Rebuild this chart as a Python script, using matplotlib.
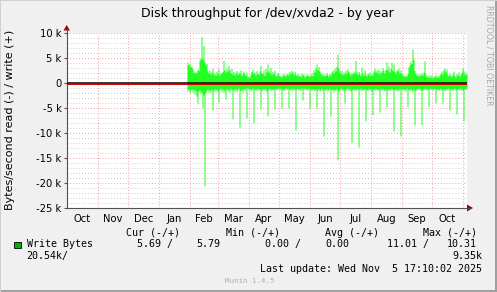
import numpy as np
import matplotlib
matplotlib.use("Agg")
import matplotlib.pyplot as plt
from matplotlib.patches import Rectangle, Polygon

W, H = 497, 292

# time range of the yearly graph
t0 = np.datetime64("2024-10-01")
t_end = np.datetime64("2025-11-05")
data_start = np.datetime64("2025-01-29")

# daily write rate, thousand bytes/s
write_k = [
    4.2, 3.6, 3.9, 3.2, 3.4, 2.9, 2.1, 2.4, 1.9, 2.2,
    2.8, 2.5, 4.6, 5.0, 9.3, 4.8, 7.5, 4.2, 3.6, 3.9,
    2.4, 2.0, 2.6, 1.8, 2.2, 2.9, 1.7, 2.0, 1.5, 2.4,
    1.8, 2.8, 1.6, 2.1, 1.9, 2.3, 4.5, 2.6, 2.2, 3.0,
    2.4, 3.5, 2.7, 2.0, 2.9, 1.8, 2.3, 1.6, 2.1, 2.5,
    1.7, 2.2, 1.9, 2.6, 1.5, 2.0, 2.4, 1.8, 1.6, 2.2,
    1.2, 1.4, 1.1, 1.8, 2.3, 2.8, 1.9, 2.2, 1.6, 2.5,
    2.0, 1.7, 2.4, 3.5, 2.1, 1.8, 2.6, 1.5, 2.9, 2.2,
    3.8, 2.4, 2.0, 3.1, 1.7, 2.3, 1.9, 2.6, 1.6, 1.4,
    2.1, 1.8, 1.3, 1.6, 1.2, 1.8, 1.5, 1.9, 1.4, 1.7,
    2.0, 1.6, 2.3, 1.9, 2.6, 2.2, 1.7, 2.4, 1.8, 1.5,
    1.9, 1.4, 1.7, 1.3, 2.0, 1.6, 1.8, 1.2, 1.5, 1.9,
    1.4, 1.7, 1.3, 1.6, 2.0, 1.5, 2.7, 2.2, 3.0, 3.8,
    2.6, 3.3, 2.4, 2.0, 1.6, 1.9, 1.4, 1.8, 1.5, 2.1,
    1.7, 1.3, 1.9, 1.6, 2.2, 2.6, 2.0, 3.0, 2.4, 3.3,
    5.8, 2.9, 2.4, 1.9, 2.5, 1.7, 2.2, 1.8, 2.6, 2.0,
    2.8, 2.3, 1.9, 1.6, 2.1, 1.8, 2.4, 2.0, 4.5, 2.2,
    1.7, 2.3, 1.9, 1.5, 3.2, 2.0, 1.6, 2.6, 1.8, 1.4,
    2.0, 1.7, 2.2, 1.5, 1.9, 1.6, 2.4, 3.0, 2.2, 2.6,
    2.0, 2.8, 1.8, 2.4, 2.1, 3.1, 2.5, 2.0, 2.7, 4.2,
    2.6, 3.4, 2.2, 2.9, 4.2, 2.5, 3.8, 2.3, 2.0, 2.7,
    2.4, 3.0, 1.9, 2.6, 2.0, 1.5, 1.8, 1.2, 1.6, 1.4,
    1.9, 3.2, 3.6, 4.4, 3.9, 6.8, 4.8, 2.5, 2.0, 1.6,
    1.8, 1.4, 1.9, 1.5, 2.0, 1.6, 2.2, 4.4, 1.8, 1.3,
    1.5, 1.1, 1.6, 1.2, 1.7, 1.0, 1.4, 1.3, 1.8, 1.1,
    1.5, 1.2, 1.6, 1.9, 2.4, 1.8, 2.6, 3.0, 2.2, 2.8,
    1.7, 1.4, 2.0, 1.6, 1.3, 1.8, 2.4, 1.5, 1.2, 1.9,
    1.6, 2.2, 1.4, 1.8, 2.1, 3.0, 2.4, 1.7, 2.2, 1.8,
]

# daily read rate, thousand bytes/s (drawn below zero)
read_k = [
    1.6, 1.2, 1.9, 1.4, 1.1, 1.8, 1.3, 2.2, 1.5, 2.6,
    4.0, 1.7, 1.4, 2.1, 1.8, 5.0, 2.4, 20.6, 1.9, 1.5,
    1.2, 1.8, 1.4, 2.0, 1.3, 5.4, 1.6, 1.1, 1.5, 1.2,
    1.7, 3.8, 1.3, 1.0, 1.6, 1.2, 1.9, 1.4, 3.2, 1.1,
    1.5, 1.3, 1.8, 1.0, 1.4, 7.2, 1.2, 1.6, 1.1, 1.7,
    1.3, 1.0, 8.8, 1.5, 1.2, 1.8, 1.1, 1.4, 1.0, 7.0,
    0.9, 1.3, 1.1, 1.6, 1.2, 1.0, 8.0, 1.4, 1.1, 1.5,
    1.0, 1.3, 1.2, 5.2, 1.6, 1.1, 1.4, 1.0, 1.3, 1.7,
    6.6, 1.2, 1.0, 1.5, 1.1, 1.4, 1.2, 5.2, 1.0, 1.3,
    1.1, 0.9, 1.4, 1.0, 5.0, 1.2, 1.5, 1.1, 0.9, 1.3,
    1.0, 5.0, 1.2, 1.4, 1.0, 1.6, 1.1, 1.3, 9.4, 1.2,
    1.0, 1.4, 1.1, 1.5, 0.9, 3.4, 1.2, 1.0, 1.3, 1.1,
    1.4, 1.0, 5.2, 1.2, 1.5, 1.1, 1.3, 1.6, 1.2, 5.0,
    1.4, 1.1, 1.7, 1.3, 1.0, 1.5, 10.6, 1.2, 1.4, 1.1,
    1.6, 1.3, 1.0, 6.6, 1.4, 1.2, 1.8, 1.3, 1.5, 1.1,
    15.4, 1.6, 1.3, 1.0, 1.4, 1.2, 1.5, 4.0, 1.1, 1.3,
    1.0, 1.4, 1.2, 1.6, 11.9, 1.3, 1.0, 1.5, 1.2, 1.4,
    1.1, 12.8, 1.3, 1.0, 1.5, 1.2, 1.4, 1.1, 7.6, 1.3,
    1.5, 1.0, 1.3, 1.2, 1.6, 6.4, 1.1, 1.4, 1.0, 1.3,
    1.2, 1.5, 5.8, 1.1, 1.4, 1.0, 1.3, 1.6, 1.2, 4.8,
    1.4, 1.1, 1.5, 1.2, 1.0, 1.3, 9.6, 1.4, 1.1, 1.6,
    1.2, 1.5, 1.0, 10.6, 1.3, 1.1, 1.4, 1.2, 1.6, 1.0,
    4.8, 1.3, 1.5, 1.1, 1.4, 1.8, 1.2, 8.4, 1.5, 1.1,
    1.3, 1.0, 1.4, 1.2, 8.3, 1.5, 1.1, 1.3, 1.0, 1.4,
    1.2, 4.7, 1.0, 1.3, 1.1, 1.4, 1.2, 1.0, 4.0, 1.3,
    1.1, 1.5, 1.2, 1.0, 1.4, 4.0, 1.2, 1.6, 1.3, 1.1,
    1.4, 1.0, 5.4, 1.3, 1.1, 1.5, 1.2, 1.0, 1.4, 6.2,
    1.1, 1.3, 1.0, 1.5, 1.2, 1.4, 7.6, 1.1, 1.3, 1.0,
]

month_names = ["Oct", "Nov", "Dec", "Jan", "Feb", "Mar", "Apr",
               "May", "Jun", "Jul", "Aug", "Sep", "Oct"]
y_ticks = [10, 5, 0, -5, -10, -15, -20, -25]

title = "Disk throughput for /dev/xvda2 - by year"
ylabel = "Bytes/second read (-) / write (+)"
series_name = "Write Bytes"
cur_vals = ("5.69 /", "5.79")
min_vals = ("0.00 /", "0.00")
avg_vals = ("0.00 /", "0.00")
max_vals = ("11.01 /", "10.31")
extra_left = "20.54k/"
extra_right = "9.35k"
last_update = "Last update: Wed Nov  5 17:10:02 2025"

# ---- derived positions
start_day = int((data_start - t0).astype(int))
days = start_day + np.arange(len(write_k) + 1)
w = np.append(write_k, write_k[-1])
r = -np.append(read_k, read_k[-1])
total_days = int((t_end - t0).astype(int))

m_start = np.arange(np.datetime64("2024-10"), np.datetime64("2025-12"),
                    np.timedelta64(1, "M")).astype("datetime64[D]")
m_pos = (m_start - t0).astype(int)
m_mid = (m_pos[:-1] + m_pos[1:]) / 2.0


def fx(x):
    return x / W


def fy(y):
    return 1 - y / H


fig = plt.figure(figsize=(W / 100, H / 100), dpi=100, facecolor="#f0f0f0")
ax = fig.add_axes([fx(67), fy(208), fx(400), 175 / H])
ax.set_facecolor("white")
ax.set_xlim(0, total_days)
ax.set_ylim(-25, 10)

# grid
for v in range(-25, 11):
    if v % 5 == 0:
        ax.axhline(v, color="#f2a0a0", lw=0.7, ls=(0, (1, 2)), zorder=1)
    else:
        ax.axhline(v, color="#cfcfcf", lw=0.7, ls=(0, (1, 2)), zorder=1)
for p in m_pos[1:]:
    ax.axvline(p, color="#f2a0a0", lw=0.7, ls=(0, (1, 2)), zorder=1)

# series
green = "#22ff22"
ax.fill_between(days, 0, w, step="post", color=green, lw=0, zorder=2)
ax.fill_between(days, 0, r, step="post", color=green, lw=0, zorder=2)
ax.axhline(-0.22, color="#d00000", lw=0.7, zorder=3)
ax.axhline(0.05, color="black", lw=1.1, zorder=3)

# axes
for s in ("top", "right"):
    ax.spines[s].set_visible(False)
for s in ("left", "bottom"):
    ax.spines[s].set_color("#505050")
    ax.spines[s].set_linewidth(0.8)

ax.set_yticks(y_ticks)
ax.set_yticklabels([("%d k" % v) if v != 0 else "0" for v in y_ticks])
ax.tick_params(axis="y", length=2.5, width=0.8, color="#505050", pad=1.5,
               labelsize=7.2)
ax.set_xticks(m_pos)
ax.set_xticklabels([])
ax.tick_params(axis="x", which="major", length=0)
ax.set_xticks(m_mid, minor=True)
ax.set_xticklabels(month_names, minor=True)
ax.tick_params(axis="x", which="minor", length=0, pad=4, labelsize=7.2)

# arrows at axis ends
fig.add_artist(plt.Line2D([fx(66.6), fx(66.6)], [fy(33), fy(29)],
                          color="#505050", lw=0.8))
fig.add_artist(Polygon([[fx(63.5), fy(30.5)], [fx(70), fy(30.5)],
                        [fx(66.7), fy(25)]], closed=True,
                       color="#a00000", lw=0))
fig.add_artist(plt.Line2D([fx(467), fx(470)], [fy(208), fy(208)],
                          color="#505050", lw=0.8))
fig.add_artist(Polygon([[fx(467), fy(204.5)], [fx(467), fy(211.5)],
                        [fx(473), fy(208)]], closed=True,
                       color="#a00000", lw=0))

# titles
fig.text(fx(267), fy(14), title, ha="center", va="center", fontsize=8.9)
fig.text(fx(10), fy(120), ylabel, rotation=90, ha="center", va="center",
         fontsize=8)
fig.text(fx(489), fy(5), "RRDTOOL / TOBI OETIKER", rotation=270,
         ha="center", va="top", fontsize=5.7, color="#a8a8a8")

# legend
mono = dict(family="DejaVu Sans Mono", fontsize=7.2, va="center")
fig.text(fx(126), fy(232.7), "Cur (-/+)", **mono)
fig.text(fx(225.7), fy(232.7), "Min (-/+)", **mono)
fig.text(fx(325), fy(232.7), "Avg (-/+)", **mono)
fig.text(fx(423.3), fy(232.7), "Max (-/+)", **mono)

fig.add_artist(Rectangle((fx(13.5), fy(247.5)), 7 / W, 6 / H,
                         facecolor="#00b400", edgecolor="black", lw=0.6))
fig.text(fx(26.7), fy(244.3), series_name, **mono)
fig.text(fx(136.7), fy(244.3), cur_vals[0], **mono)
fig.text(fx(196.7), fy(244.3), cur_vals[1], **mono)
fig.text(fx(265), fy(244.3), min_vals[0], **mono)
fig.text(fx(325), fy(244.3), avg_vals[1], **mono)
fig.text(fx(386.7), fy(244.3), max_vals[0], **mono)
fig.text(fx(446.7), fy(244.3), max_vals[1], **mono)
fig.text(fx(26.7), fy(255.7), extra_left, **mono)
fig.text(fx(482.5), fy(255.7), extra_right, ha="right", **mono)
fig.text(fx(482.5), fy(269), last_update, ha="right", **mono)
fig.text(fx(225), fy(281), "Munin 1.4.5", family="DejaVu Sans Mono",
         fontsize=5.3, va="center", color="#b0b0b0")

# 3d-ish frame
fig.add_artist(Rectangle((0, 0), 1, 2.5 / H, color="#a0a0a0", lw=0))
fig.add_artist(Rectangle((1 - 2.5 / W, 0), 2.5 / W, 1, color="#a0a0a0", lw=0))
fig.add_artist(Rectangle((0, 0), 1.2 / W, 1, color="#d0d0d0", lw=0))
fig.add_artist(Rectangle((0, 1 - 1.2 / H), 1, 1.2 / H, color="#d0d0d0", lw=0))

fig.savefig("out.png", dpi=100, facecolor=fig.get_facecolor())
